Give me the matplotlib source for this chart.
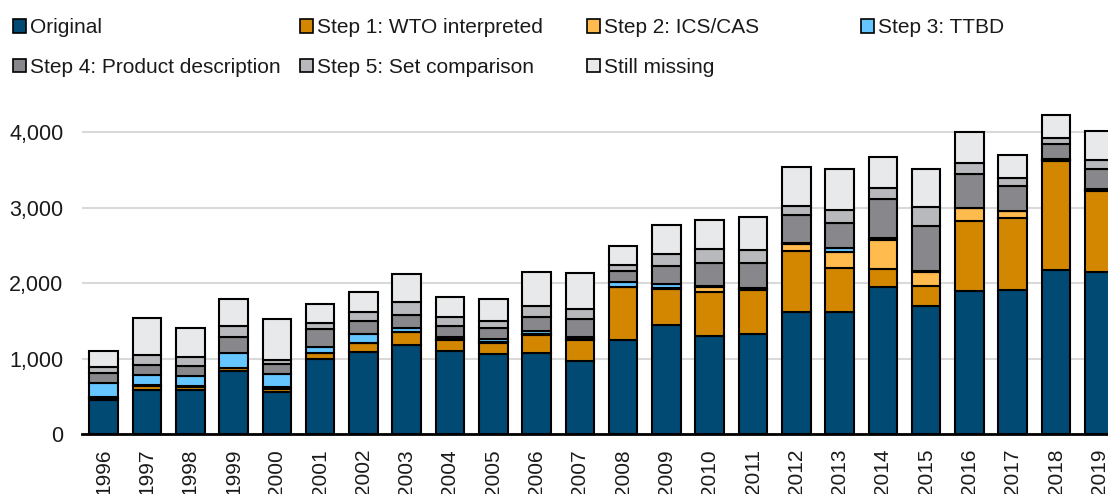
import matplotlib
matplotlib.use("Agg")
import matplotlib.pyplot as plt
from matplotlib.patches import Patch
import numpy as np

years = [str(y) for y in range(1996, 2020)]
original = [455, 587, 587, 843, 565, 993, 1086, 1183, 1104, 1064, 1082, 976, 1250, 1448, 1302, 1324, 1625, 1625, 1947, 1700, 1903, 1912, 2177, 2146]
step1 = [30, 50, 45, 30, 40, 80, 119, 168, 146, 150, 234, 274, 697, 473, 588, 588, 803, 574, 238, 269, 923, 958, 1443, 1070]
step2 = [10, 10, 10, 10, 15, 10, 10, 10, 8, 8, 8, 8, 10, 10, 57, 10, 88, 212, 389, 181, 167, 88, 15, 15]
step3 = [189, 139, 131, 199, 179, 78, 110, 52, 35, 35, 40, 30, 65, 60, 20, 10, 15, 60, 25, 12, 5, 5, 15, 20]
step4 = [124, 132, 136, 212, 133, 230, 180, 168, 146, 151, 194, 235, 141, 243, 298, 333, 374, 332, 518, 602, 446, 331, 195, 263]
step5 = [88, 133, 120, 141, 53, 88, 120, 167, 111, 98, 142, 137, 80, 154, 190, 177, 119, 168, 150, 251, 145, 97, 84, 120]
missing = [212, 485, 375, 353, 538, 243, 265, 376, 265, 286, 455, 481, 256, 385, 384, 441, 521, 539, 411, 504, 411, 309, 301, 388]

labels = ["Original", "Step 1: WTO interpreted", "Step 2: ICS/CAS", "Step 3: TTBD",
          "Step 4: Product description", "Step 5: Set comparison", "Still missing"]
colors = ["#004a73", "#d38700", "#ffbb4d", "#66c6ff", "#88888c", "#b8b9bc", "#e8e9eb"]
series = [original, step1, step2, step3, step4, step5, missing]

plt.rcParams['font.family'] = ['Liberation Sans', 'DejaVu Sans']

W, H = 1108, 494
fig = plt.figure(figsize=(W / 100, H / 100), dpi=100)
ax_left, ax_right = 82, 1121
ax_bottom_px = 434.3
ax_top_px = 94.5
ax = fig.add_axes([ax_left / W, (H - ax_bottom_px) / H, (ax_right - ax_left) / W,
                   (ax_bottom_px - ax_top_px) / H])

x = np.arange(len(years))
bottom = np.zeros(len(years))
for vals, col, lab in zip(series, colors, labels):
    vals = np.array(vals, dtype=float)
    ax.bar(x, vals, bottom=bottom, width=0.66, color=col, edgecolor="black",
           linewidth=1.5, label=lab, zorder=3)
    bottom += vals

ax.set_xlim(-0.5, len(years) - 0.5)
ax.set_ylim(0, 4500)
ax.set_yticks([0, 1000, 2000, 3000, 4000])
ax.set_yticklabels(["0", "1,000", "2,000", "3,000", "4,000"])
ax.set_xticks(x)
ax.set_xticklabels(years, rotation=90)
ax.tick_params(axis='y', length=0, pad=13.5, labelsize=15.5, labelcolor="#1a1a1a")
ax.tick_params(axis='x', length=0, pad=10.5, labelsize=15, labelcolor="#1a1a1a")
ax.grid(axis='y', color="#d9d9d9", linewidth=1.5, zorder=0)
ax.set_axisbelow(True)
for s in ["top", "right", "left"]:
    ax.spines[s].set_visible(False)
ax.spines["bottom"].set_linewidth(2)
ax.spines["bottom"].set_color("black")
ax.spines["bottom"].set_zorder(4)

handles = [Patch(facecolor=c, edgecolor="black", linewidth=1.2) for c in colors]
columns = [[0, 4], [1, 5], [2, 6], [3]]
col_x = [9, 296, 583, 857]
for cx, idxs in zip(col_x, columns):
    fig.legend([handles[i] for i in idxs], [labels[i] for i in idxs],
               loc="upper left", bbox_to_anchor=(cx / W, 1 - 14 / H),
               frameon=False, fontsize=15, handlelength=0.62, handleheight=0.62,
               handletextpad=0.2, labelspacing=1.0, borderpad=0.2,
               borderaxespad=0, labelcolor="#1a1a1a")

fig.savefig("out.png", dpi=100)
